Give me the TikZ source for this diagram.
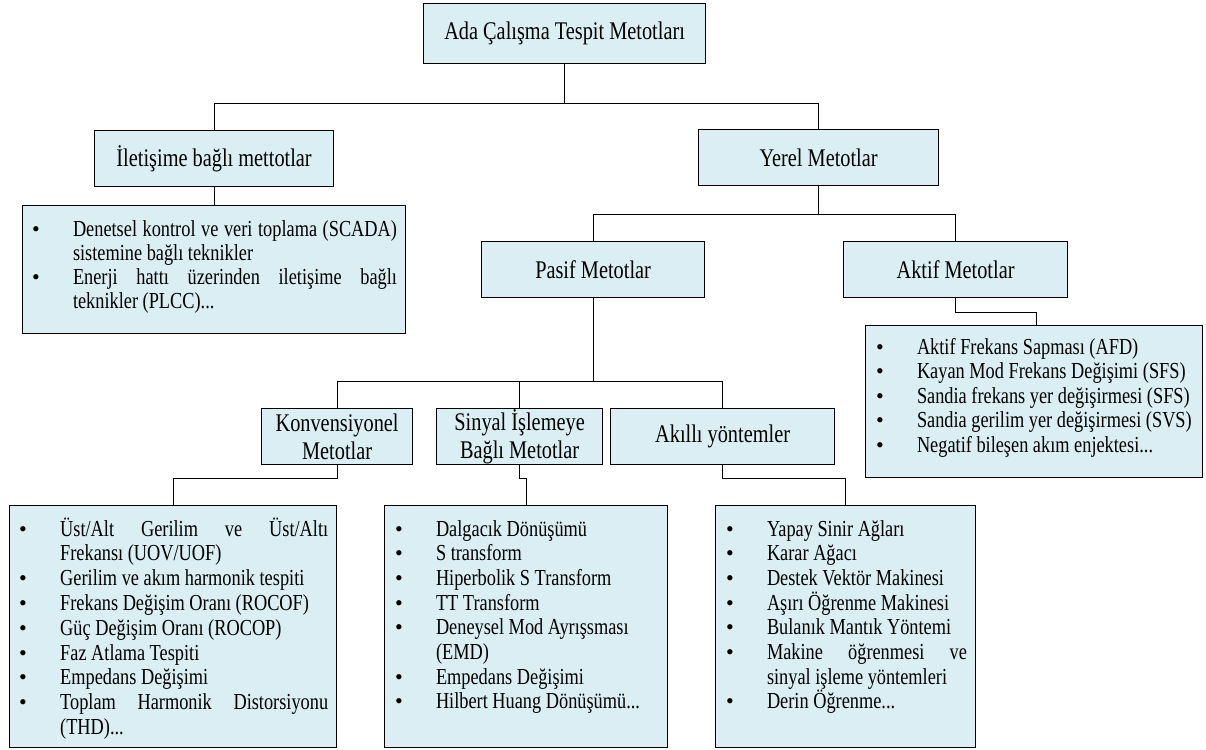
\documentclass[tikz,border=0pt]{standalone}
\usepackage{fontspec}
\setmainfont{Liberation Serif}[FakeStretch=0.8]
\newfontfamily\bulletfont{Liberation Serif}
\definecolor{boxfill}{HTML}{DAEEF3}
\newlength\bhang
\setlength\bhang{41pt}
\newcommand\bitem{\par\noindent\hangindent=\bhang\hangafter=1\makebox[\bhang][l]{{\bulletfont\fontsize{22}{24}\selectfont\textbullet}}}
\newcommand\firstbase{\hbox{}\vskip-\baselineskip}
\begin{document}
\begin{tikzpicture}[x=1pt,y=-1pt,
  box/.style={draw=black, fill=boxfill, line width=1.2pt, inner sep=0pt, anchor=north west, font=\fontsize{25.4}{28}\selectfont, align=center},
  lbox/.style={draw=black, fill=boxfill, line width=1.2pt, inner sep=0pt, anchor=north west},
  ltext/.style={anchor=base west, inner sep=0pt, align=justify, font=\fontsize{22.9}{24.7}\selectfont},
  conn/.style={draw=black, line width=1pt}]
\useasboundingbox (0,0) rectangle (1206,749);

% label boxes
\node[box, minimum width=282, minimum height=60] (top) at (423,3) {Ada Çalışma Tespit Metotları};
\node[box, minimum width=239, minimum height=56] (ilet) at (94,130) {İletişime bağlı mettotlar};
\node[box, minimum width=240, minimum height=56] (yerel) at (698,129) {Yerel Metotlar};
\node[box, minimum width=223, minimum height=56] (pasif) at (481,241) {Pasif Metotlar};
\node[box, minimum width=224, minimum height=56] (aktif) at (843,241) {Aktif Metotlar};
\node[box, minimum width=151, minimum height=56] (konv) at (261,408) {Konvensiyonel\\Metotlar};
\node[box, minimum width=166, minimum height=56] (sinyal) at (436,408) {Sinyal İşlemeye\\Bağlı Metotlar};
\node[box, minimum width=224, minimum height=56] (akilli) at (610,408) {Akıllı yöntemler};

% list boxes
\node[lbox, minimum width=383, minimum height=128] (iletlist) at (22,205) {};
\node[lbox, minimum width=337, minimum height=152] (aktiflist) at (865,325) {};
\node[lbox, minimum width=327, minimum height=242] (konvlist) at (9,505) {};
\node[lbox, minimum width=283, minimum height=242] (sinyallist) at (384,505) {};
\node[lbox, minimum width=260, minimum height=242] (akillilist) at (715,505) {};

% list texts
\node[ltext, font=\fontsize{22.9}{24}\selectfont, text width=365] (iletitems) at (31.8,236) {\firstbase
\bitem Denetsel kontrol ve veri toplama (SCADA)\linebreak sistemine bağlı teknikler
\bitem Enerji hattı üzerinden iletişime bağlı\linebreak teknikler (PLCC)...\par};

\node[ltext, font=\fontsize{22.9}{24.6}\selectfont, text width=330] (aktifitems) at (875.8,354) {\firstbase
\bitem Aktif Frekans Sapması (AFD)
\bitem Kayan Mod Frekans Değişimi (SFS)
\bitem Sandia frekans yer değişirmesi (SFS)
\bitem Sandia gerilim yer değişirmesi (SVS)
\bitem Negatif bileşen akım enjektesi...\par};

\node[ltext, font=\fontsize{22.9}{24.8}\selectfont, text width=309] (konvitems) at (19,536) {\firstbase
\bitem Üst/Alt Gerilim ve Üst/Altı\linebreak Frekansı (UOV/UOF)
\bitem Gerilim ve akım harmonik tespiti
\bitem Frekans Değişim Oranı (ROCOF)
\bitem Güç Değişim Oranı (ROCOP)
\bitem Faz Atlama Tespiti
\bitem Empedans Değişimi
\bitem Toplam Harmonik Distorsiyonu\linebreak (THD)...\par};

\node[ltext, text width=264] (sinyalitems) at (394.8,536) {\firstbase
\bitem Dalgacık Dönüşümü
\bitem S transform
\bitem Hiperbolik S Transform
\bitem TT Transform
\bitem Deneysel Mod Ayrışsması\newline (EMD)
\bitem Empedans Değişimi
\bitem Hilbert Huang Dönüşümü...\par};

\node[ltext, text width=241] (akilliitems) at (725.8,536) {\firstbase
\bitem Yapay Sinir Ağları
\bitem Karar Ağacı
\bitem Destek Vektör Makinesi
\bitem Aşırı Öğrenme Makinesi
\bitem Bulanık Mantık Yöntemi
\bitem Makine öğrenmesi ve\linebreak sinyal işleme yöntemleri
\bitem Derin Öğrenme...\par};

% connectors
\draw[conn] (top.south) -- ++(0,39) coordinate (j1);
\draw[conn] (j1) -| (ilet.north);
\draw[conn] (j1) -| (yerel.north);
\draw[conn] (ilet.south) -- (iletlist.north);
\draw[conn] (yerel.south) -- ++(0,28) coordinate (j2);
\draw[conn] (j2) -| (pasif.north);
\draw[conn] (j2) -| (aktif.north);
\draw[conn] (aktif.south) -- ++(0,14) -| ([xshift=2.5pt]aktiflist.north);
\draw[conn] (pasif.south) -- ++(0,83) coordinate (j3);
\draw[conn] (j3) -| (konv.north);
\draw[conn] (j3) -| (sinyal.north);
\draw[conn] (j3) -| (akilli.north);
\draw[conn] (konv.south) -- ++(0,13) -| (konvlist.north);
\draw[conn] (sinyal.south) -- ++(0,13) -| (sinyallist.north);
\draw[conn] (akilli.south) -- ++(0,13) -| (akillilist.north);
\end{tikzpicture}
\end{document}
